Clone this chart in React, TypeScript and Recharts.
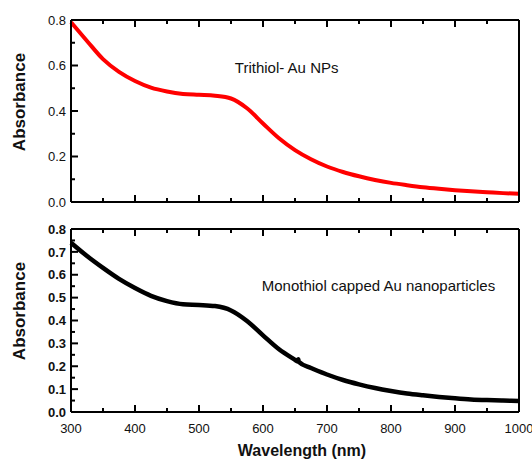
import { LineChart, Line, XAxis, YAxis, ReferenceDot } from "recharts";

const FONT = "'Liberation Sans', Arial, Helvetica, sans-serif";
const W = 532;
const TOP_H = 215;
const BOT_H = 246;

// Trithiol-capped Au NPs (top panel)
const wavelengthsTop = [
    300, 325, 350, 375, 400, 425, 450, 475, 500, 525, 550, 575, 600, 625, 650,
    675, 700, 725, 750, 775, 800, 825, 850, 875, 900, 925, 950, 975, 1000,
];
const trithiolAbs = [
    0.79, 0.708, 0.628, 0.572, 0.532, 0.503, 0.486, 0.475, 0.471, 0.467, 0.455,
    0.412, 0.345, 0.28, 0.228, 0.188, 0.156, 0.132, 0.113, 0.097, 0.084,
    0.074, 0.065, 0.058, 0.052, 0.047, 0.043, 0.039, 0.036,
];

// Monothiol-capped Au nanoparticles (bottom panel), small glitch near 655 nm
const wavelengthsBottom = [
    300, 325, 350, 375, 400, 425, 450, 475, 500, 525, 550, 575, 600, 625, 650,
    654, 655, 656, 675, 700, 725, 750, 775, 800, 825, 850, 875, 900, 925, 950,
    975, 1000,
];
const monothiolAbs = [
    0.74, 0.682, 0.63, 0.582, 0.542, 0.508, 0.485, 0.471, 0.468, 0.463, 0.444,
    0.398, 0.335, 0.274, 0.228, 0.221, 0.231, 0.219, 0.192, 0.164, 0.14, 0.121,
    0.105, 0.092, 0.081, 0.073, 0.066, 0.06, 0.055, 0.052, 0.05, 0.048,
];

const xTicks = [300, 350, 400, 450, 500, 550, 600, 650, 700, 750, 800, 850, 900, 950, 1000];
const yTicksTop = [0, 0.1, 0.2, 0.3, 0.4, 0.5, 0.6, 0.7, 0.8];
const yTicksBottom = [
    0, 0.05, 0.1, 0.15, 0.2, 0.25, 0.3, 0.35, 0.4, 0.45, 0.5, 0.55, 0.6, 0.65, 0.7, 0.75, 0.8,
];

const topData = wavelengthsTop.map((x, i) => ({ x, y: trithiolAbs[i] }));
const bottomData = wavelengthsBottom.map((x, i) => ({ x, y: monothiolAbs[i] }));

const MAJOR = 7;
const MINOR = 4;

const isMajorX = (v: number) => v % 100 === 0;

function makeXTick(side: "bottom" | "top", showLabel: boolean) {
    return (props: any) => {
        const { x, y, payload } = props;
        const major = isMajorX(payload.value);
        const len = major ? MAJOR : MINOR;
        const dir = side === "bottom" ? -1 : 1;
        return (
            <g>
                <line x1={x} y1={y} x2={x} y2={y + dir * len} stroke="#000" strokeWidth={2} />
                {showLabel && major && (
                    <text x={x} y={y + 21} textAnchor="middle" fontSize={13} fontFamily={FONT} fill="#111">
                        {payload.value}
                    </text>
                )}
            </g>
        );
    };
}

function makeYTick(side: "left" | "right", step: number, bold: boolean) {
    return (props: any) => {
        const { x, y, payload } = props;
        const v = payload.value as number;
        const major = Math.round(v * 100) % Math.round(step * 100) === 0;
        const len = major ? MAJOR : MINOR;
        const dir = side === "left" ? 1 : -1;
        return (
            <g>
                <line x1={x} y1={y} x2={x + dir * len} y2={y} stroke="#000" strokeWidth={2} />
                {side === "left" && major && (
                    <text
                        x={x - 5}
                        y={y}
                        dy="0.36em"
                        textAnchor="end"
                        fontSize={13}
                        fontWeight={bold ? "bold" : "normal"}
                        fontFamily={FONT}
                        fill="#111"
                    >
                        {v.toFixed(1)}
                    </text>
                )}
            </g>
        );
    };
}

function yTitle(centerY: number) {
    return () => (
        <text
            transform={`translate(19, ${centerY}) rotate(-90)`}
            textAnchor="middle"
            dy="0.36em"
            fontSize={17}
            fontWeight="bold"
            fontFamily={FONT}
            fill="#111"
        >
            Absorbance
        </text>
    );
}

const axisLine = { stroke: "#000", strokeWidth: 2 };

const xCommon = {
    dataKey: "x",
    type: "number" as const,
    domain: [300, 1000],
    ticks: xTicks,
    interval: 0 as const,
    height: 1,
    tickSize: 0,
    tickMargin: 0,
    tickLine: false,
    axisLine,
};

const yCommon = {
    type: "number" as const,
    domain: [0, 0.8],
    interval: 0 as const,
    width: 1,
    tickSize: 0,
    tickMargin: 0,
    tickLine: false,
    axisLine,
};

export default function App() {
    return (
        <div style={{ position: "relative", width: W, height: TOP_H + BOT_H, background: "#fff" }}>
            <style>{"body{margin:0}"}</style>
            <div style={{ position: "absolute", left: 0, top: 0 }}>
                <LineChart width={W} height={TOP_H} data={topData} margin={{ top: 19, right: 12, bottom: 12, left: 70 }}>
                    <XAxis {...xCommon} tick={makeXTick("bottom", false)} />
                    <XAxis {...xCommon} xAxisId="top" orientation="top" tick={makeXTick("top", false)} />
                    <YAxis
                        {...yCommon}
                        ticks={yTicksTop}
                        tick={makeYTick("left", 0.2, false)}
                        label={{ content: yTitle(102) }}
                    />
                    <YAxis
                        {...yCommon}
                        yAxisId="right"
                        orientation="right"
                        ticks={yTicksTop}
                        tick={makeYTick("right", 0.2, false)}
                    />
                    <ReferenceDot
                        x={556}
                        y={0.589}
                        r={0}
                        fill="none"
                        stroke="none"
                        label={{ value: "Trithiol- Au NPs", position: "right", offset: 0, fontSize: 15, fontFamily: FONT, fill: "#111" }}
                    />
                    <Line
                        type="monotone"
                        dataKey="y"
                        stroke="#ff0000"
                        strokeWidth={4}
                        dot={false}
                        isAnimationActive={false}
                    />
                </LineChart>
            </div>
            <div style={{ position: "absolute", left: 0, top: TOP_H }}>
                <LineChart width={W} height={BOT_H} data={bottomData} margin={{ top: 13, right: 12, bottom: 48, left: 70 }}>
                    <XAxis
                        {...xCommon}
                        tick={makeXTick("bottom", true)}
                        label={{
                            content: () => (
                                <text x={302} y={BOT_H - 5} textAnchor="middle" fontSize={16} fontWeight="bold" fontFamily={FONT} fill="#111">
                                    Wavelength (nm)
                                </text>
                            ),
                        }}
                    />
                    <XAxis {...xCommon} xAxisId="top" orientation="top" tick={makeXTick("top", false)} />
                    <YAxis
                        {...yCommon}
                        ticks={yTicksBottom}
                        tick={makeYTick("left", 0.1, true)}
                        label={{ content: yTitle(96) }}
                    />
                    <YAxis
                        {...yCommon}
                        yAxisId="right"
                        orientation="right"
                        ticks={yTicksBottom}
                        tick={makeYTick("right", 0.1, false)}
                    />
                    <ReferenceDot
                        x={598}
                        y={0.551}
                        r={0}
                        fill="none"
                        stroke="none"
                        label={{ value: "Monothiol capped Au nanoparticles", position: "right", offset: 0, fontSize: 15, fontFamily: FONT, fill: "#111" }}
                    />
                    <Line
                        type="monotone"
                        dataKey="y"
                        stroke="#000"
                        strokeWidth={4.5}
                        dot={false}
                        isAnimationActive={false}
                    />
                </LineChart>
            </div>
        </div>
    );
}
